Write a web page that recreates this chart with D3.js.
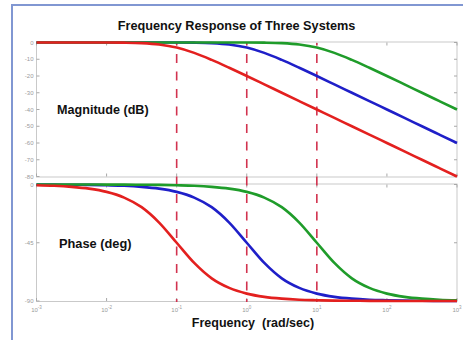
<!DOCTYPE html>
<html>
<head>
<meta charset="utf-8">
<script src="https://cdn.jsdelivr.net/npm/d3@7"></script>
<style>
  html, body { margin: 0; padding: 0; background: #fff; }
  svg { display: block; }
</style>
</head>
<body>
<svg id="chart" width="463" height="340"></svg>
<script>
// Frequencies (rad/sec), quarter-decade steps
const freq = [0.001, 0.00178, 0.00316, 0.00562, 0.01, 0.0178, 0.0316, 0.0562,
  0.1, 0.178, 0.316, 0.562, 1, 1.78, 3.16, 5.62, 10, 17.8, 31.6, 56.2,
  100, 178, 316, 562, 1000];

// Magnitude (dB)
const magRed = [0, 0, 0, 0, 0, -0.1, -0.4, -1.2, -3.0, -6.2, -10.4, -15.1, -20.0,
  -25, -30, -35, -40, -45, -50, -55, -60, -65, -70, -75, -80];
const magBlue = [0, 0, 0, 0, 0, 0, 0, 0, 0, -0.1, -0.4, -1.2, -3.0, -6.2, -10.4,
  -15.1, -20.0, -25, -30, -35, -40, -45, -50, -55, -60];
const magGreen = [0, 0, 0, 0, 0, 0, 0, 0, 0, 0, 0, 0, 0, -0.1, -0.4, -1.2, -3.0,
  -6.2, -10.4, -15.1, -20.0, -25, -30, -35, -40];

// Phase (deg)
const phaseRed = [-0.6, -1.0, -1.8, -3.2, -5.7, -10.1, -17.5, -29.4, -45.0, -60.6,
  -72.5, -79.9, -84.3, -86.8, -88.2, -89.0, -89.4, -89.7, -89.8, -89.9, -89.9,
  -90, -90, -90, -90];
const phaseBlue = [-0.1, -0.1, -0.2, -0.3, -0.6, -1.0, -1.8, -3.2, -5.7, -10.1,
  -17.5, -29.4, -45.0, -60.6, -72.5, -79.9, -84.3, -86.8, -88.2, -89.0, -89.4,
  -89.7, -89.8, -89.9, -89.9];
const phaseGreen = [0, 0, 0, 0, -0.1, -0.1, -0.2, -0.3, -0.6, -1.0, -1.8, -3.2,
  -5.7, -10.1, -17.5, -29.4, -45.0, -60.6, -72.5, -79.9, -84.3, -86.8, -88.2,
  -89.0, -89.4];

// Corner frequencies marked with dashed lines
const corners = [0.1, 1, 10];

// Tick labels
const decadeTicks = [1e-3, 1e-2, 1e-1, 1e0, 1e1, 1e2, 1e3];
const decadeExp = ["-3", "-2", "-1", "0", "1", "2", "3"];
const magTicks = [0, -10, -20, -30, -40, -50, -60, -70, -80];
const phaseTicks = [0, -45, -90];

const colors = { red: "#e3201f", blue: "#1f1fc8", green: "#1f9c2a" };

const svg = d3.select("#chart");

// Outer frame
svg.append("rect")
  .attr("x", 12).attr("y", 5).attr("width", 470).attr("height", 360)
  .attr("fill", "#fff").attr("stroke", "#8197d2").attr("stroke-width", 2);

const x = d3.scaleLog().domain([1e-3, 1e3]).range([36.5, 457]);
const yMag = d3.scaleLinear().domain([0, -80]).range([42.5, 176.5]);
const yPh = d3.scaleLinear().domain([0, -90]).range([184.5, 301]);

const gridCol = "#c9c9c9";
const tickCol = "#a8a8a8";
const labelCol = "#9a9a9a";

function panel(y, ticks) {
  const [y0, y1] = y.range();
  const g = svg.append("g");
  g.append("rect")
    .attr("x", x.range()[0]).attr("y", y0 - 0.5)
    .attr("width", x.range()[1] - x.range()[0]).attr("height", y1 - y0 + 1)
    .attr("fill", "none").attr("stroke", gridCol).attr("stroke-width", 1);
  // left / right ticks
  ticks.forEach(t => {
    g.append("line").attr("x1", x.range()[0]).attr("x2", x.range()[0] + 3)
      .attr("y1", y(t)).attr("y2", y(t)).attr("stroke", tickCol);
    g.append("line").attr("x1", x.range()[1]).attr("x2", x.range()[1] - 3)
      .attr("y1", y(t)).attr("y2", y(t)).attr("stroke", tickCol);
  });
  // top / bottom decade ticks
  decadeTicks.forEach(t => {
    g.append("line").attr("x1", x(t)).attr("x2", x(t))
      .attr("y1", y0).attr("y2", y0 + 3).attr("stroke", tickCol);
    g.append("line").attr("x1", x(t)).attr("x2", x(t))
      .attr("y1", y1).attr("y2", y1 - 3).attr("stroke", tickCol);
  });
  // tick labels
  g.selectAll("text.yl").data(ticks).enter().append("text")
    .attr("x", x.range()[0] - 3).attr("y", d => y(d))
    .attr("dy", "0.35em").attr("text-anchor", "end")
    .attr("font-family", "Liberation Sans, Arial, sans-serif")
    .attr("font-size", 6).attr("fill", labelCol)
    .text(d => d);
  return g;
}

panel(yMag, magTicks);
panel(yPh, phaseTicks);

// Decade labels below the phase panel
decadeTicks.forEach((t, i) => {
  const tx = svg.append("text")
    .attr("x", x(t)).attr("y", 312)
    .attr("text-anchor", "middle")
    .attr("font-family", "Liberation Sans, Arial, sans-serif")
    .attr("font-size", 6).attr("fill", labelCol);
  tx.append("tspan").text("10");
  tx.append("tspan").attr("dy", -3).attr("font-size", 4.5).text(decadeExp[i]);
});

// Dashed corner-frequency markers
svg.selectAll("line.corner").data(corners).enter().append("line")
  .attr("x1", d => x(d)).attr("x2", d => x(d))
  .attr("y1", 43).attr("y2", 302)
  .attr("stroke", "#d2334f").attr("stroke-width", 1.6)
  .attr("stroke-dasharray", "9,8.5").attr("stroke-dashoffset", -11);

function drawSeries(y, vals, color) {
  const line = d3.line()
    .x((d, i) => x(freq[i]))
    .y(d => y(d))
    .curve(d3.curveMonotoneX);
  svg.append("path")
    .attr("d", line(vals))
    .attr("fill", "none").attr("stroke", color)
    .attr("stroke-width", 2.6).attr("stroke-linejoin", "round");
}

drawSeries(yMag, magBlue, colors.blue);
drawSeries(yMag, magGreen, colors.green);
drawSeries(yMag, magRed, colors.red);
drawSeries(yPh, phaseBlue, colors.blue);
drawSeries(yPh, phaseGreen, colors.green);
drawSeries(yPh, phaseRed, colors.red);

// Titles
const bold = { family: "Liberation Sans, Arial, sans-serif", weight: "bold" };
function label(txt, xx, yy, size, anchor) {
  svg.append("text")
    .attr("x", xx).attr("y", yy)
    .attr("text-anchor", anchor)
    .attr("font-family", bold.family).attr("font-weight", bold.weight)
    .attr("font-size", size).attr("fill", "#111")
    .attr("xml:space", "preserve")
    .text(txt);
}
label("Frequency Response of Three Systems", 236.5, 30, 12.7, "middle");
label("Magnitude (dB)", 57, 113.5, 12.6, "start");
label("Phase (deg)", 59, 247.5, 12.8, "start");
label("Frequency  (rad/sec)", 253, 326.5, 12.5, "middle");
</script>
</body>
</html>
